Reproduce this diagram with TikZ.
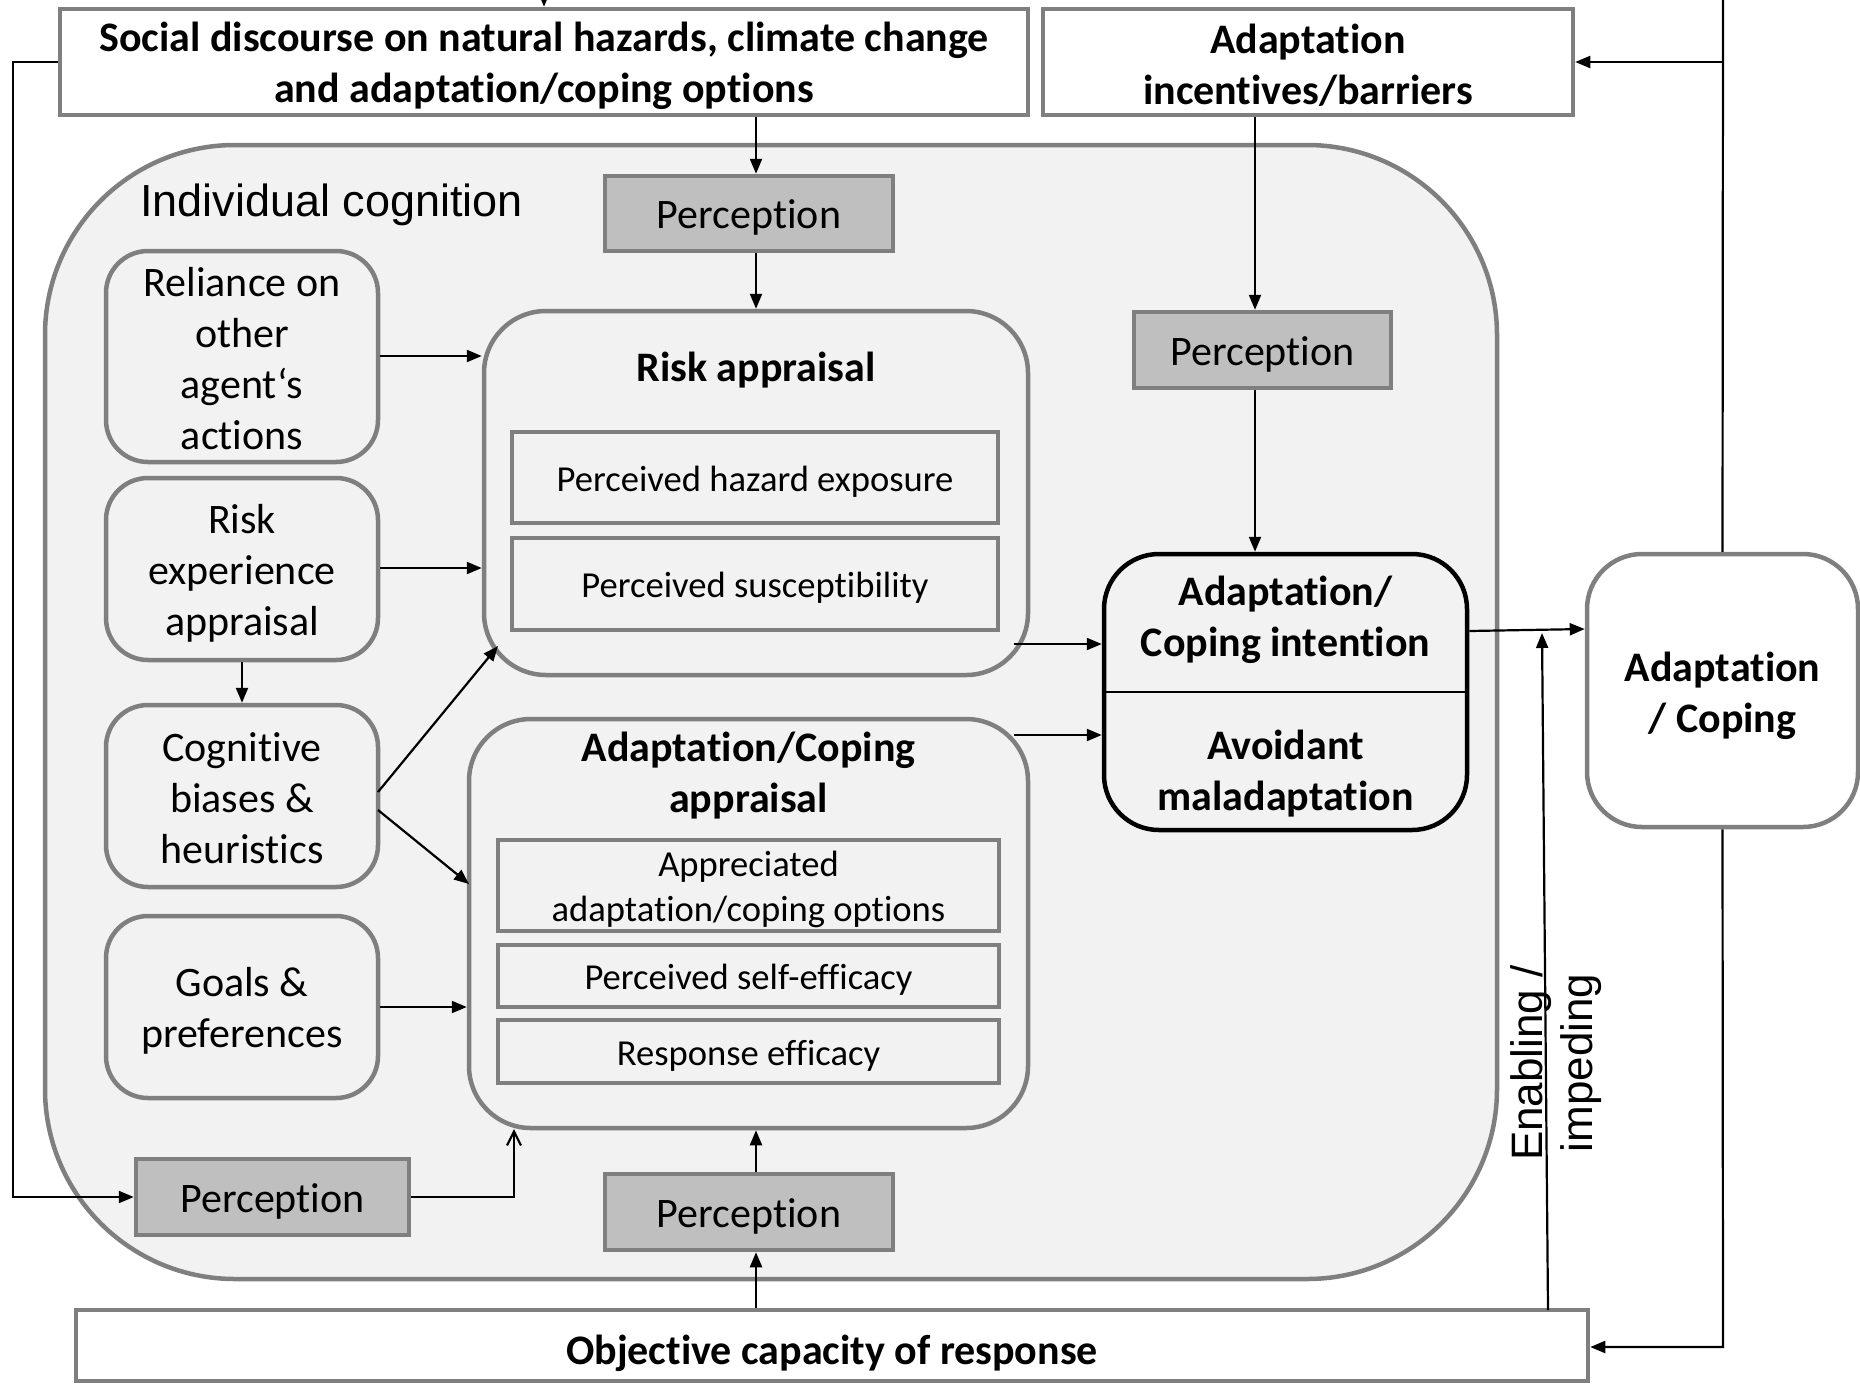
\documentclass[tikz,border=0pt]{standalone}
\usepackage{fontspec}
\setmainfont{Carlito}[Ligatures={NoCommon}]
\newfontfamily\arialf{Liberation Sans}
\usetikzlibrary{arrows.meta}
\definecolor{bgray}{HTML}{7F7F7F}
\definecolor{pfill}{HTML}{BFBFBF}
\definecolor{icfill}{HTML}{F2F2F2}
\newcommand{\fsbig}{\fontsize{42}{51}\selectfont}
\newcommand{\fssmall}{\fontsize{36.6}{45}\selectfont}
\newcommand{\fsic}{\fontsize{45}{52}\selectfont}
\newcommand{\fsen}{\fontsize{44}{50}\selectfont}
\tikzset{
  basebox/.style={draw=bgray, line width=4.5pt, inner sep=0pt},
  whitebox/.style={basebox, fill=white},
  percbox/.style={basebox, fill=pfill},
  leftbox/.style={basebox, fill=icfill, rounded corners=42pt},
  apprbox/.style={basebox, fill=icfill, rounded corners=62pt},
  subbox/.style={basebox, fill=icfill},
  txt/.style={inner sep=0pt, align=center, font=\fsbig},
  stxt/.style={inner sep=0pt, align=center, font=\fssmall},
  title/.style={inner sep=0pt, align=center, font=\fsbig\bfseries},
  conn/.style={line width=2.2pt},
  arr/.style={line width=2.2pt, -{Triangle[length=15pt,width=12pt]}},
  openarr/.style={line width=2.2pt, -{Straight Barb[length=14pt,width=14pt,line width=2.2pt]}}
}
\begin{document}
\begin{tikzpicture}[x=1pt,y=-1pt]
\useasboundingbox (0,0) rectangle (1860,1385);
% individual cognition container
\node[basebox, fill=icfill, rounded corners=190pt, minimum width=1452pt, minimum height=1134pt] (ic) at (771,712) {};
\node[anchor=west, inner sep=0pt, font=\arialf\fsic] (ictitle) at (140,205) {Individual cognition};
% top boxes
\node[whitebox, minimum width=968pt, minimum height=106pt] (soc) at (544,62) {};
\node[title] (soctext) at ([yshift=-4pt]soc.center) {Social discourse on natural hazards, climate change\\and adaptation/coping options};
\node[whitebox, minimum width=530pt, minimum height=106pt] (inc) at (1308,62) {};
\node[title] (inctext) at ([yshift=-3pt]inc.center) {Adaptation\\incentives/barriers};
% perception boxes
\node[percbox, minimum width=288pt, minimum height=75pt] (p1) at (749,213.5) {};
\node[txt] (p1text) at ([yshift=-4pt]p1.center) {Perception};
\node[percbox, minimum width=257pt, minimum height=76pt] (pr) at (1262.5,350) {};
\node[txt] (prtext) at ([yshift=-4pt]pr.center) {Perception};
\node[percbox, minimum width=273pt, minimum height=76pt] (pbl) at (272.5,1197) {};
\node[txt] (pbltext) at ([yshift=-4pt]pbl.center) {Perception};
\node[percbox, minimum width=288pt, minimum height=76pt] (pbc) at (749,1212) {};
\node[txt] (pbctext) at ([yshift=-4pt]pbc.center) {Perception};
% left boxes
\node[leftbox, minimum width=272pt, minimum height=211pt] (rel) at (242,356.5) {};
\node[txt] (reltext) at ([yshift=-2pt]rel.center) {Reliance on\\other\\agent‘s\\actions};
\node[leftbox, minimum width=272pt, minimum height=182pt] (rex) at (242,569) {};
\node[txt] (rextext) at ([yshift=-4pt]rex.center) {Risk\\experience\\appraisal};
\node[leftbox, minimum width=272pt, minimum height=182pt] (cog) at (242,796) {};
\node[txt] (cogtext) at ([yshift=-2pt]cog.center) {Cognitive\\biases \&\\heuristics};
\node[leftbox, minimum width=272pt, minimum height=182pt] (goal) at (242,1007) {};
\node[txt] (goaltext) at ([yshift=-4pt]goal.center) {Goals \&\\preferences};
% risk appraisal
\node[apprbox, minimum width=544pt, minimum height=364pt] (ra) at (756,493) {};
\node[title] (ratitle) at (756,370) {Risk appraisal};
\node[subbox, minimum width=486pt, minimum height=91pt] (phe) at (755,477.5) {};
\node[stxt] (phetext) at ([yshift=-4pt]phe.center) {Perceived hazard exposure};
\node[subbox, minimum width=486pt, minimum height=92pt] (ps) at (755,584) {};
\node[stxt] (pstext) at ([yshift=-4pt]ps.center) {Perceived susceptibility};
% adaptation appraisal
\node[apprbox, minimum width=559pt, minimum height=409pt] (aca) at (748.5,923.5) {};
\node[title] (acatitle) at (748.5,776) {Adaptation/Coping\\appraisal};
\node[subbox, minimum width=501pt, minimum height=91pt] (aao) at (748.5,885.5) {};
\node[stxt] (aaotext) at ([yshift=-4pt]aao.center) {Appreciated\\adaptation/coping options};
\node[subbox, minimum width=501pt, minimum height=62pt] (pse) at (748.5,976) {};
\node[stxt] (psetext) at ([yshift=-4pt]pse.center) {Perceived self-efficacy};
\node[subbox, minimum width=501pt, minimum height=63pt] (re) at (748.5,1051.5) {};
\node[stxt] (retext) at ([yshift=-4pt]re.center) {Response efficacy};
% intention
\node[draw=black, line width=4.5pt, fill=icfill, rounded corners=55pt, minimum width=363pt, minimum height=276pt, inner sep=0pt] (int) at (1285.5,692) {};
\draw[line width=2pt] (int.west |- 0,692) -- (int.east |- 0,692);
\node[title] (intA) at (1285.5,620) {Adaptation/\\Coping intention};
\node[title] (intB) at (1285.5,774) {Avoidant\\maladaptation};
% adaptation / coping
\node[whitebox, rounded corners=55pt, minimum width=271pt, minimum height=273pt] (ac) at (1722.5,690.5) {};
\node[title] (actext) at ([yshift=-5pt]ac.center) {Adaptation\\/ Coping};
% objective capacity
\node[whitebox, minimum width=1512pt, minimum height=71pt] (obj) at (832,1345.5) {};
\node[title] (objtext) at (832,1353) {Objective capacity of response};
% enabling label
\node[rotate=90, inner sep=0pt, align=center, font=\arialf\fsen] (en) at (1556,1063) {Enabling /\\impeding};
% coordinates
\coordinate (topin) at (544,0);
\coordinate (topright) at (1723,0);
\coordinate (rasw) at (498,646);
\coordinate (cogA) at (378,792);
\coordinate (cogB) at (378,810);
\coordinate (acaw) at (469,884);
\coordinate (raout) at (1014,644);
\coordinate (acaout) at (1014,735);
\coordinate (enbot) at (1548,1310);
\coordinate (entop) at (1542,633);
\coordinate (lft) at (13,62);
\coordinate (lfb) at (13,1197);
\coordinate (pbr) at (514,1197);
\coordinate (acab) at (514,1129);
\coordinate (rtb) at (1723,1347);
\coordinate (rtm) at (1723,62);
% connectors
\draw[arr] (topin) -- (soc.north -| topin);
\draw[arr] (soc.south -| 756,0) -- (p1.north -| 756,0);
\draw[arr] (p1.south -| 756,0) -- (ra.north -| 756,0);
\draw[arr] (inc.south -| 1255,0) -- (pr.north -| 1255,0);
\draw[arr] (pr.south -| 1255,0) -- (int.north -| 1255,0);
\draw[arr] (rel.east |- 0,356) -- (ra.west |- 0,356);
\draw[arr] (rex.east |- 0,568) -- (ra.west |- 0,568);
\draw[arr] (rex.south) -- (cog.north);
\draw[arr] (cogA) -- (rasw);
\draw[arr] (cogB) -- (acaw);
\draw[arr] (goal.east |- 0,1007) -- (aca.west |- 0,1007);
\draw[arr] (raout) -- (int.west |- raout);
\draw[arr] (acaout) -- (int.west |- acaout);
\draw[arr] (int.east |- 0,631) -- (ac.west |- 0,629);
\draw[arr] (enbot) -- (entop);
\draw[conn] (ac.north) -- (topright);
\draw[arr] (rtm) -- (inc.east);
\draw[arr] (ac.south) -- (rtb) -- (obj.east |- rtb);
\draw[arr] (soc.west |- lft) -- (lft) -- (lfb) -- (pbl.west);
\draw[openarr] (pbl.east) -- (pbr) -- (acab);
\draw[arr] (pbc.north -| 756,0) -- (aca.south -| 756,0);
\draw[arr] (obj.north -| 756,0) -- (pbc.south -| 756,0);
\end{tikzpicture}
\end{document}
